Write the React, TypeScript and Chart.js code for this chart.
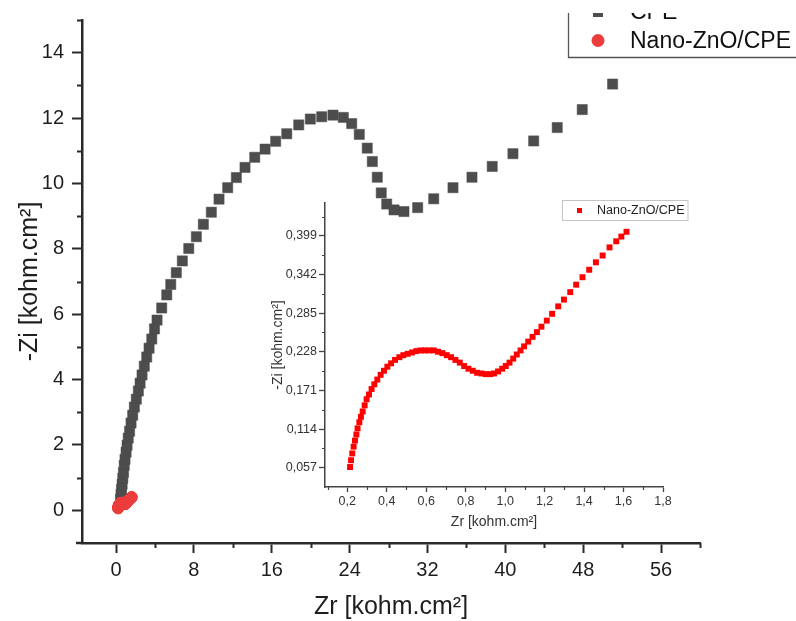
import React, { useEffect, useRef } from 'react';
import { Chart, registerables } from 'chart.js';

Chart.register(...registerables);

// ---- CPE (main chart, dark squares) ----
const CPE_ZR = [0.46, 0.51, 0.56, 0.62, 0.69, 0.76, 0.84, 0.92, 1.03, 1.13, 1.25, 1.39, 1.54, 1.71, 1.88, 2.08, 2.29, 2.47, 2.67, 2.90, 3.15, 3.39, 3.67, 3.95, 4.21, 4.69, 5.21, 5.62, 6.19, 6.81, 7.47, 8.25, 8.97, 9.79, 10.58, 11.47, 12.36, 13.25, 14.25, 15.31, 16.40, 17.54, 18.77, 19.96, 21.13, 22.29, 23.35, 24.21, 24.99, 25.81, 26.33, 26.84, 27.25, 27.81, 28.56, 29.58, 30.99, 32.64, 34.62, 36.57, 38.65, 40.78, 42.91, 45.33, 47.90, 51.02];
const CPE_ZI = [0.34, 0.49, 0.64, 0.80, 0.98, 1.16, 1.38, 1.56, 1.78, 1.99, 2.21, 2.42, 2.67, 2.91, 3.16, 3.40, 3.65, 3.89, 4.14, 4.41, 4.69, 4.96, 5.24, 5.55, 5.82, 6.19, 6.59, 6.91, 7.27, 7.63, 8.01, 8.37, 8.75, 9.12, 9.52, 9.87, 10.18, 10.49, 10.80, 11.05, 11.29, 11.52, 11.79, 11.97, 12.04, 12.09, 12.02, 11.83, 11.50, 11.08, 10.67, 10.19, 9.71, 9.37, 9.19, 9.14, 9.26, 9.53, 9.87, 10.19, 10.52, 10.91, 11.30, 11.71, 12.26, 13.04];

// ---- Nano-ZnO/CPE (red; main chart circles + inset squares) ----
const NANO_ZR = [0.214, 0.219, 0.225, 0.232, 0.239, 0.246, 0.252, 0.261, 0.269, 0.278, 0.288, 0.298, 0.310, 0.323, 0.337, 0.352, 0.369, 0.386, 0.403, 0.422, 0.442, 0.464, 0.484, 0.506, 0.528, 0.550, 0.572, 0.594, 0.616, 0.638, 0.660, 0.682, 0.704, 0.726, 0.748, 0.770, 0.792, 0.814, 0.836, 0.858, 0.880, 0.902, 0.924, 0.944, 0.964, 0.985, 1.003, 1.022, 1.041, 1.059, 1.078, 1.096, 1.117, 1.139, 1.161, 1.184, 1.211, 1.238, 1.269, 1.298, 1.330, 1.360, 1.392, 1.426, 1.460, 1.494, 1.529, 1.563, 1.589, 1.615];
const NANO_ZI = [0.058, 0.068, 0.078, 0.088, 0.097, 0.106, 0.115, 0.124, 0.132, 0.140, 0.149, 0.158, 0.165, 0.173, 0.180, 0.187, 0.194, 0.200, 0.206, 0.211, 0.216, 0.220, 0.223, 0.225, 0.227, 0.229, 0.230, 0.230, 0.230, 0.230, 0.228, 0.226, 0.223, 0.220, 0.216, 0.212, 0.207, 0.203, 0.200, 0.197, 0.196, 0.195, 0.195, 0.196, 0.199, 0.203, 0.207, 0.212, 0.218, 0.224, 0.230, 0.236, 0.243, 0.250, 0.257, 0.265, 0.274, 0.284, 0.295, 0.305, 0.316, 0.327, 0.338, 0.349, 0.360, 0.370, 0.382, 0.391, 0.398, 0.405];

// ---- ticks ----
const MAIN_X_TICKS = [0, 8, 16, 24, 32, 40, 48, 56];
const MAIN_X_MINOR = [4, 12, 20, 28, 36, 44, 52, 60];
const MAIN_Y_TICKS = [0, 2, 4, 6, 8, 10, 12, 14];
const MAIN_Y_MINOR = [1, 3, 5, 7, 9, 11, 13, 15];

const INSET_X_TICKS = [0.2, 0.4, 0.6, 0.8, 1.0, 1.2, 1.4, 1.6, 1.8];
const INSET_X_LABELS = ['0,2', '0,4', '0,6', '0,8', '1,0', '1,2', '1,4', '1,6', '1,8'];
const INSET_X_MINOR = [0.1, 0.3, 0.5, 0.7, 0.9, 1.1, 1.3, 1.5, 1.7];
const INSET_Y_TICKS = [0.057, 0.114, 0.171, 0.228, 0.285, 0.342, 0.399];
const INSET_Y_LABELS = ['0,057', '0,114', '0,171', '0,228', '0,285', '0,342', '0,399'];
const INSET_Y_MINOR = [0.0855, 0.1425, 0.1995, 0.2565, 0.3135, 0.3705, 0.4275];

const TITLE_X = 'Zr [kohm.cm²]';
const TITLE_Y = '-Zi [kohm.cm²]';
const LABEL_CPE = 'CPE';
const LABEL_NANO = 'Nano-ZnO/CPE';

const FAMILY = "'Liberation Sans', Arial, sans-serif";
const W = 796;
const H = 621;

function minorTicksPlugin(id: string, xs: number[], ys: number[], len: number, color: string, width: number) {
  return {
    id,
    afterDraw(chart: any) {
      const { ctx, chartArea } = chart;
      const xs_ = chart.scales.x;
      const ys_ = chart.scales.y;
      ctx.save();
      ctx.strokeStyle = color;
      ctx.lineWidth = width;
      ctx.beginPath();
      xs.forEach((v) => {
        const px = Math.round(xs_.getPixelForValue(v)) + 0.5;
        ctx.moveTo(px, chartArea.bottom);
        ctx.lineTo(px, chartArea.bottom + len);
      });
      ys.forEach((v) => {
        const py = Math.round(ys_.getPixelForValue(v)) + 0.5;
        ctx.moveTo(chartArea.left - len, py);
        ctx.lineTo(chartArea.left, py);
      });
      ctx.stroke();
      ctx.restore();
    },
  };
}

const whiteBg = {
  id: 'whiteBg',
  beforeDraw(chart: any) {
    const { ctx } = chart;
    ctx.save();
    ctx.fillStyle = '#ffffff';
    ctx.fillRect(0, 0, chart.width, chart.height);
    ctx.restore();
  },
};

const mainExtras = {
  id: 'mainExtras',
  afterDraw(chart: any) {
    const { ctx, chartArea } = chart;
    ctx.save();
    // small extension of x axis to the left of the y axis
    ctx.strokeStyle = '#2a2a2a';
    ctx.lineWidth = 2.5;
    ctx.beginPath();
    ctx.moveTo(chartArea.left - 6, chartArea.bottom);
    ctx.lineTo(chartArea.left, chartArea.bottom);
    ctx.stroke();

    // legend (cropped at top, as in the source figure)
    ctx.fillStyle = '#4d4d4d';
    ctx.fillRect(593, 6, 10, 11);
    ctx.fillStyle = '#111';
    ctx.font = `23px ${FAMILY}`;
    ctx.textBaseline = 'alphabetic';
    ctx.textAlign = 'left';
    ctx.fillText(LABEL_CPE, 630, 19);
    ctx.fillStyle = '#ffffff';
    ctx.fillRect(560, 0, 236, 13);

    ctx.strokeStyle = '#555';
    ctx.lineWidth = 1.3;
    ctx.beginPath();
    ctx.moveTo(568.5, 13);
    ctx.lineTo(568.5, 57.5);
    ctx.lineTo(796, 57.5);
    ctx.stroke();

    ctx.fillStyle = '#ec3d3d';
    ctx.beginPath();
    ctx.arc(598, 40.5, 6.5, 0, Math.PI * 2);
    ctx.fill();
    ctx.fillStyle = '#111';
    ctx.fillText(LABEL_NANO, 630, 47.5);
    ctx.restore();
  },
};

const insetLegend = {
  id: 'insetLegend',
  afterDraw(chart: any) {
    const { ctx } = chart;
    ctx.save();
    ctx.fillStyle = '#ffffff';
    ctx.fillRect(563, 200.5, 125, 20);
    ctx.strokeStyle = '#c4c4c4';
    ctx.lineWidth = 1;
    ctx.strokeRect(562.5, 200.5, 125.5, 20);
    ctx.fillStyle = '#ff0000';
    ctx.fillRect(577, 208, 5, 5);
    ctx.fillStyle = '#222';
    ctx.font = `12.5px ${FAMILY}`;
    ctx.textBaseline = 'middle';
    ctx.textAlign = 'left';
    ctx.fillText(LABEL_NANO, 597, 211);
    ctx.restore();
  },
};

export default function App() {
  const mainRef = useRef<HTMLCanvasElement>(null);
  const insetRef = useRef<HTMLCanvasElement>(null);

  useEffect(() => {
    const mainCanvas = mainRef.current!;
    const insetCanvas = insetRef.current!;

    const cpePoints = CPE_ZR.map((x, i) => ({ x, y: CPE_ZI[i] }));
    const nanoPoints = NANO_ZR.map((x, i) => ({ x, y: NANO_ZI[i] }));

    const main = new Chart(mainCanvas, {
      type: 'scatter',
      data: {
        datasets: [
          {
            label: LABEL_NANO,
            data: nanoPoints,
            pointStyle: 'circle',
            pointRadius: 5.5,
            pointBackgroundColor: '#ec3d3d',
            pointBorderColor: '#ec3d3d',
            pointBorderWidth: 1,
            showLine: false,
          },
          {
            label: LABEL_CPE,
            data: cpePoints,
            pointStyle: 'rect',
            pointRadius: 7.2,
            pointBackgroundColor: '#4d4d4d',
            pointBorderColor: '#4d4d4d',
            pointBorderWidth: 0.5,
            showLine: false,
          },
        ],
      },
      options: {
        responsive: false,
        animation: false,
        events: [],
        layout: { padding: { left: 0, top: 20, right: 96, bottom: 0 } },
        plugins: { legend: { display: false }, tooltip: { enabled: false } },
        scales: {
          x: {
            type: 'linear',
            min: -3.5,
            max: 60,
            afterBuildTicks: (s: any) => {
              s.ticks = MAIN_X_TICKS.map((v) => ({ value: v }));
            },
            afterFit: (s: any) => {
              s.height = 78;
            },
            ticks: {
              autoSkip: false,
              maxRotation: 0,
              padding: 5,
              color: '#1e1e1e',
              font: { family: FAMILY, size: 20 },
              callback: (v: any) => String(v),
            },
            grid: { drawOnChartArea: false, drawTicks: true, tickLength: 10, tickWidth: 2, tickColor: '#2a2a2a' },
            border: { display: true, color: '#2a2a2a', width: 2.5 },
            title: {
              display: true,
              text: TITLE_X,
              color: '#1e1e1e',
              font: { family: FAMILY, size: 25, lineHeight: 1 },
              padding: { top: 0, bottom: 1 },
            },
          },
          y: {
            type: 'linear',
            min: -1,
            max: 15,
            afterBuildTicks: (s: any) => {
              s.ticks = MAIN_Y_TICKS.map((v) => ({ value: v }));
            },
            afterFit: (s: any) => {
              s.width = 82;
            },
            ticks: {
              autoSkip: false,
              padding: 8,
              color: '#1e1e1e',
              font: { family: FAMILY, size: 20 },
              callback: (v: any) => String(v),
            },
            grid: { drawOnChartArea: false, drawTicks: true, tickLength: 10, tickWidth: 2, tickColor: '#2a2a2a' },
            border: { display: true, color: '#2a2a2a', width: 2.5 },
            title: {
              display: true,
              text: TITLE_Y,
              color: '#1e1e1e',
              font: { family: FAMILY, size: 25, lineHeight: 1 },
              padding: { top: 18, bottom: 0 },
            },
          },
        },
      },
      plugins: [whiteBg, minorTicksPlugin('mainMinor', MAIN_X_MINOR, MAIN_Y_MINOR, 5, '#2a2a2a', 2), mainExtras],
    } as any);

    const inset = new Chart(insetCanvas, {
      type: 'scatter',
      data: {
        datasets: [
          {
            label: LABEL_NANO,
            data: nanoPoints,
            pointStyle: 'rect',
            pointRadius: 4.2,
            pointBackgroundColor: '#ff0000',
            pointBorderColor: '#ff0000',
            pointBorderWidth: 0,
            showLine: false,
          },
        ],
      },
      options: {
        responsive: false,
        animation: false,
        events: [],
        layout: { padding: { left: 260, top: 203, right: 133, bottom: 85 } },
        plugins: { legend: { display: false }, tooltip: { enabled: false } },
        scales: {
          x: {
            type: 'linear',
            min: 0.087,
            max: 1.8,
            afterBuildTicks: (s: any) => {
              s.ticks = INSET_X_TICKS.map((v) => ({ value: v }));
            },
            afterFit: (s: any) => {
              s.height = 49;
            },
            ticks: {
              autoSkip: false,
              maxRotation: 0,
              padding: 2,
              color: '#333',
              font: { family: FAMILY, size: 12.5 },
              callback: (_v: any, i: number) => INSET_X_LABELS[i],
            },
            grid: { drawOnChartArea: false, drawTicks: true, tickLength: 5, tickWidth: 1.3, tickColor: '#444' },
            border: { display: true, color: '#444', width: 1.5 },
            title: {
              display: true,
              text: TITLE_X,
              color: '#333',
              font: { family: FAMILY, size: 14, lineHeight: 1.2 },
              padding: { top: 0, bottom: 5 },
            },
          },
          y: {
            type: 'linear',
            min: 0.0285,
            max: 0.4475,
            afterBuildTicks: (s: any) => {
              s.ticks = INSET_Y_TICKS.map((v) => ({ value: v }));
            },
            afterFit: (s: any) => {
              s.width = 65;
            },
            ticks: {
              autoSkip: false,
              padding: 2,
              color: '#333',
              font: { family: FAMILY, size: 12.5 },
              callback: (_v: any, i: number) => INSET_Y_LABELS[i],
            },
            grid: { drawOnChartArea: false, drawTicks: true, tickLength: 6, tickWidth: 1.3, tickColor: '#444' },
            border: { display: true, color: '#444', width: 1.5 },
            title: {
              display: true,
              text: TITLE_Y,
              color: '#333',
              font: { family: FAMILY, size: 14, lineHeight: 1.2 },
              padding: { top: 10, bottom: 0 },
            },
          },
        },
      },
      plugins: [minorTicksPlugin('insetMinor', INSET_X_MINOR, INSET_Y_MINOR, 3, '#444', 1.2), insetLegend],
    } as any);

    return () => {
      main.destroy();
      inset.destroy();
    };
  }, []);

  return (
    <div style={{ position: 'fixed', left: 0, top: 0, width: W, height: H, background: '#fff' }}>
      <canvas ref={mainRef} width={W} height={H} style={{ position: 'absolute', left: 0, top: 0, width: W, height: H }} />
      <canvas
        ref={insetRef}
        width={W}
        height={H}
        style={{ position: 'absolute', left: 0, top: 0, width: W, height: H, pointerEvents: 'none' }}
      />
    </div>
  );
}
